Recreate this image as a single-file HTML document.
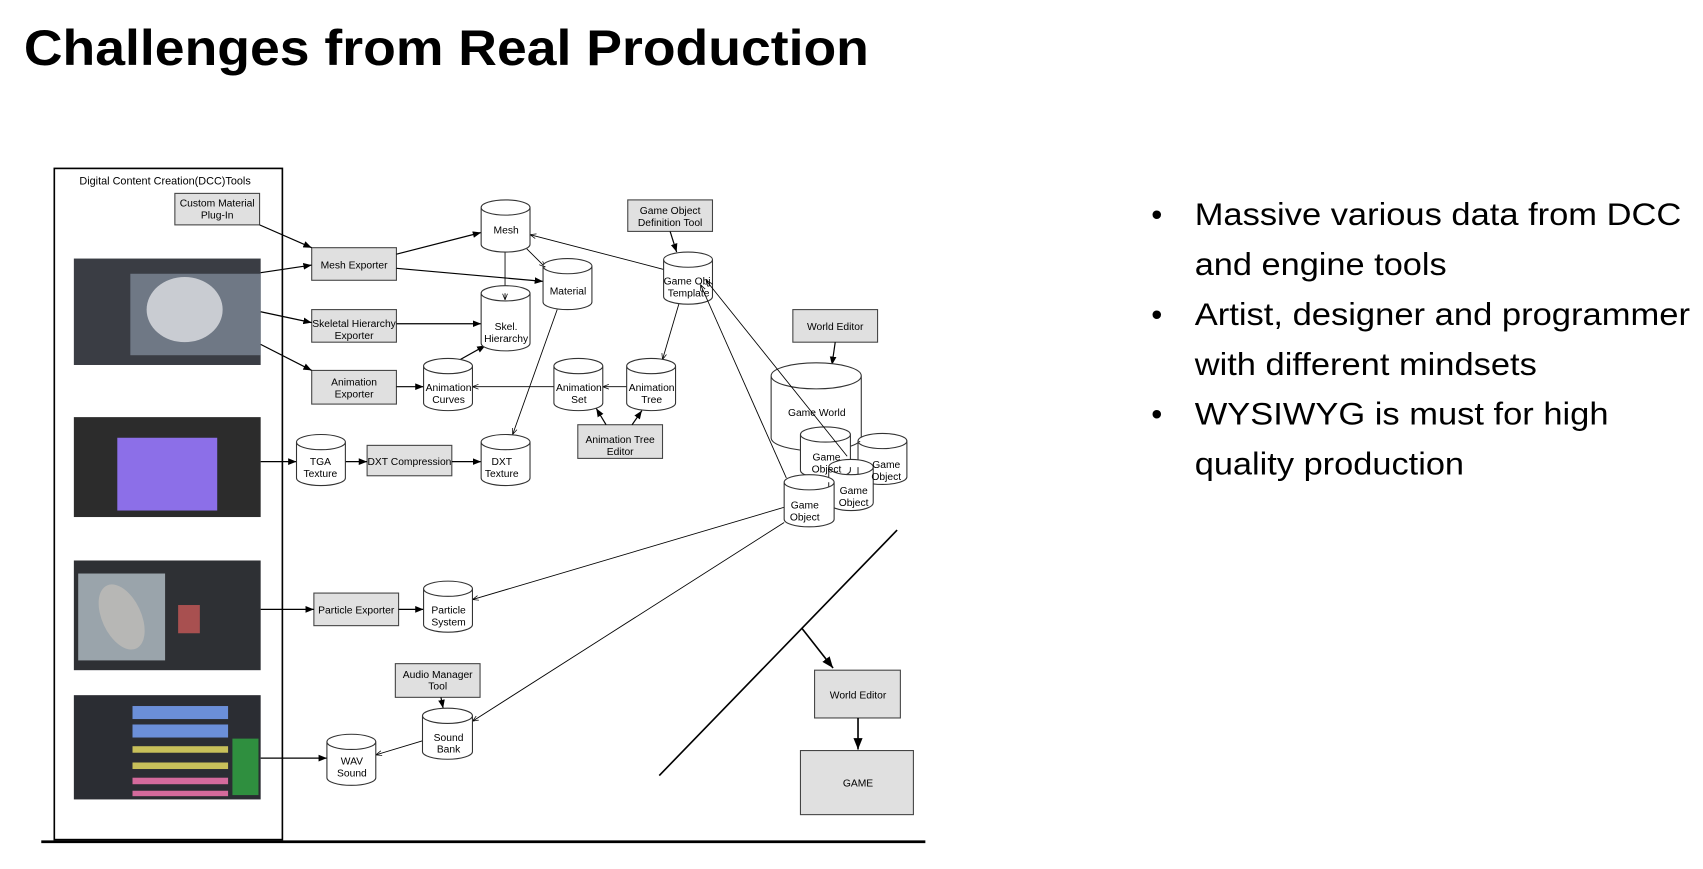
<!DOCTYPE html>
<html><head><meta charset="utf-8"><style>
html,body{margin:0;padding:0;background:#fff;}
svg{display:block;}
text{font-family:"Liberation Sans",Arial,sans-serif;}
</style></head><body>
<svg width="1703" height="869" viewBox="0 0 1568 800" xmlns="http://www.w3.org/2000/svg">
<defs>
<marker id="a" viewBox="0 0 10 10" refX="10" refY="5" markerWidth="7" markerHeight="7" orient="auto"><path d="M0,1 L10,5 L0,9 z" fill="#000"/></marker>
<marker id="o" viewBox="0 0 10 10" refX="10" refY="5" markerWidth="7" markerHeight="7" orient="auto"><path d="M0,1 L10,5 L0,9" fill="none" stroke="#000" stroke-width="1.2"/></marker>
<marker id="os" viewBox="0 0 10 10" refX="0" refY="5" markerWidth="7" markerHeight="7" orient="auto"><path d="M10,1 L0,5 L10,9" fill="none" stroke="#000" stroke-width="1.2"/></marker>
</defs>
<text x="22" y="60" font-size="46" font-weight="bold" textLength="778" lengthAdjust="spacingAndGlyphs">Challenges from Real Production</text>

<!-- bullets -->
<g font-size="29" fill="#000">
<text x="1060" y="207">•</text><text x="1100" y="207" textLength="448" lengthAdjust="spacingAndGlyphs">Massive various data from DCC</text>
<text x="1100" y="253" textLength="232" lengthAdjust="spacingAndGlyphs">and engine tools</text>
<text x="1060" y="299">•</text><text x="1100" y="299" textLength="456" lengthAdjust="spacingAndGlyphs">Artist, designer and programmer</text>
<text x="1100" y="345" textLength="315" lengthAdjust="spacingAndGlyphs">with different mindsets</text>
<text x="1060" y="391">•</text><text x="1100" y="391" textLength="381" lengthAdjust="spacingAndGlyphs">WYSIWYG is must for high</text>
<text x="1100" y="437" textLength="248" lengthAdjust="spacingAndGlyphs">quality production</text>
</g>

<!-- DCC box -->
<rect x="50" y="155" width="210" height="618" fill="none" stroke="#000" stroke-width="1.5"/>
<line x1="38" y1="775" x2="852" y2="775" stroke="#000" stroke-width="2.5"/>
<text x="152" y="170" font-size="10" text-anchor="middle">Digital Content Creation(DCC)Tools</text>

<!-- screenshots -->
<rect x="68" y="238" width="172" height="98" fill="#3a3d44"/>
<rect x="120" y="252" width="120" height="75" fill="#6f7885"/>
<ellipse cx="170" cy="285" rx="35" ry="30" fill="#c9ccd2"/>
<rect x="68" y="384" width="172" height="92" fill="#2c2c2c"/>
<rect x="108" y="403" width="92" height="67" fill="#8c6fe8"/>
<rect x="68" y="516" width="172" height="101" fill="#2e3034"/>
<rect x="72" y="528" width="80" height="80" fill="#9aa4ab"/>
<ellipse cx="112" cy="568" rx="18" ry="32" fill="#b7b7b5" transform="rotate(-25 112 568)"/>
<rect x="164" y="557" width="20" height="26" fill="#a85050"/>
<rect x="68" y="640" width="172" height="96" fill="#2b2d33"/>
<rect x="122" y="650" width="88" height="12" fill="#6b8fd9"/>
<rect x="122" y="667" width="88" height="12" fill="#6b8fd9"/>
<rect x="122" y="687" width="88" height="6" fill="#c8c05a"/>
<rect x="122" y="702" width="88" height="6" fill="#c8c05a"/>
<rect x="122" y="716" width="88" height="6" fill="#d46a9c"/>
<rect x="122" y="728" width="88" height="5" fill="#d46a9c"/>
<rect x="214" y="680" width="24" height="52" fill="#2f8f3f"/>

<!-- boxes -->
<g fill="#e0e0e0" stroke="#444" stroke-width="1">
<rect x="161" y="178" width="78" height="29"/>
<rect x="287" y="228" width="78" height="30"/>
<rect x="287" y="285" width="78" height="30"/>
<rect x="287" y="341" width="78" height="31"/>
<rect x="289" y="546" width="78" height="30"/>
<rect x="338" y="410" width="78" height="28"/>
<rect x="578" y="184" width="78" height="29"/>
<rect x="730" y="285" width="78" height="30"/>
<rect x="532" y="391" width="78" height="31"/>
<rect x="364" y="611" width="78" height="31"/>
<rect x="750" y="617" width="79" height="44"/>
<rect x="737" y="691" width="104" height="59"/>
</g>
<g font-size="9.5" text-anchor="middle" fill="#000">
<text x="200" y="190">Custom Material</text><text x="200" y="201">Plug-In</text>
<text x="326" y="247">Mesh Exporter</text>
<text x="326" y="301">Skeletal Hierarchy</text><text x="326" y="312">Exporter</text>
<text x="326" y="355">Animation</text><text x="326" y="366">Exporter</text>
<text x="328" y="565">Particle Exporter</text>
<text x="377" y="428">DXT Compression</text>
<text x="617" y="197">Game Object</text><text x="617" y="208">Definition Tool</text>
<text x="769" y="304">World Editor</text>
<text x="571" y="408">Animation Tree</text><text x="571" y="419">Editor</text>
<text x="403" y="624">Audio Manager</text><text x="403" y="635">Tool</text>
<text x="790" y="643">World Editor</text>
<text x="790" y="724">GAME</text>
</g>

<!-- connectors -->
<g stroke="#000" stroke-width="1.1" fill="none">
<line x1="239" y1="207" x2="287" y2="228" marker-end="url(#a)"/>
<line x1="240" y1="251" x2="287" y2="244" marker-end="url(#a)"/>
<line x1="240" y1="287" x2="287" y2="297" marker-end="url(#a)"/>
<line x1="240" y1="317" x2="287" y2="341" marker-end="url(#a)"/>
<line x1="365" y1="234" x2="443" y2="214" marker-end="url(#a)"/>
<line x1="365" y1="247" x2="500" y2="259" marker-end="url(#a)"/>
<line x1="365" y1="298" x2="443" y2="298" marker-end="url(#a)"/>
<line x1="365" y1="356" x2="390" y2="356" marker-end="url(#a)"/>
<line x1="422" y1="332" x2="447" y2="318" marker-end="url(#a)"/>
<line x1="465" y1="232" x2="465" y2="276" stroke-width="0.8" marker-end="url(#o)"/>
<line x1="485" y1="229" x2="502" y2="246" stroke-width="0.8" marker-end="url(#o)"/>
<line x1="513" y1="285" x2="472" y2="400" stroke-width="0.8" marker-end="url(#o)"/>
<line x1="611" y1="248" x2="488" y2="216" stroke-width="0.8" marker-end="url(#o)"/>
<line x1="625" y1="280" x2="610" y2="331" stroke-width="0.8" marker-end="url(#o)"/>
<line x1="577" y1="356" x2="555" y2="356" stroke-width="0.8" marker-end="url(#o)"/>
<line x1="510" y1="356" x2="435" y2="356" stroke-width="0.8" marker-end="url(#o)"/>
<line x1="558" y1="391" x2="549" y2="376" marker-end="url(#a)"/>
<line x1="582" y1="391" x2="591" y2="378" marker-end="url(#a)"/>
<line x1="617" y1="213" x2="623" y2="232" marker-end="url(#a)"/>
<line x1="769" y1="315" x2="766" y2="336" marker-end="url(#a)"/>
<line x1="240" y1="425" x2="273" y2="425" marker-end="url(#a)"/>
<line x1="318" y1="425" x2="338" y2="425" marker-end="url(#a)"/>
<line x1="416" y1="425" x2="443" y2="425" marker-end="url(#a)"/>
<line x1="240" y1="561" x2="289" y2="561" marker-end="url(#a)"/>
<line x1="367" y1="561" x2="390" y2="561" marker-end="url(#a)"/>
<line x1="406" y1="642" x2="408" y2="652" marker-end="url(#a)"/>
<line x1="240" y1="698" x2="301" y2="698" marker-end="url(#a)"/>
<line x1="389" y1="682" x2="346" y2="695" stroke-width="0.8" marker-end="url(#o)"/>
<line x1="722" y1="467" x2="435" y2="552" stroke-width="0.8" marker-end="url(#o)"/>
<line x1="722" y1="481" x2="435" y2="664" stroke-width="0.8" marker-end="url(#o)"/>
<line x1="607" y1="714" x2="826" y2="488" stroke-width="1.5"/>
<line x1="738" y1="578" x2="767" y2="615" stroke-width="1.5" marker-end="url(#a)"/>
<line x1="790" y1="661" x2="790" y2="690" stroke-width="1.5" marker-end="url(#a)"/>
</g>

<!-- cylinders -->
<g fill="#fff" stroke="#333" stroke-width="1">
<path d="M443,191 a22.5,7 0 0 1 45,0 v34 a22.5,7 0 0 1 -45,0 z M443,191 a22.5,7 0 0 0 45,0"/>
<path d="M500,245 a22.5,7 0 0 1 45,0 v33 a22.5,7 0 0 1 -45,0 z M500,245 a22.5,7 0 0 0 45,0"/>
<path d="M611,239 a22.5,7 0 0 1 45,0 v34 a22.5,7 0 0 1 -45,0 z M611,239 a22.5,7 0 0 0 45,0"/>
<path d="M443,270 a22.5,7 0 0 1 45,0 v46 a22.5,7 0 0 1 -45,0 z M443,270 a22.5,7 0 0 0 45,0"/>
<path d="M390,337 a22.5,7 0 0 1 45,0 v34 a22.5,7 0 0 1 -45,0 z M390,337 a22.5,7 0 0 0 45,0"/>
<path d="M510,337 a22.5,7 0 0 1 45,0 v34 a22.5,7 0 0 1 -45,0 z M510,337 a22.5,7 0 0 0 45,0"/>
<path d="M577,337 a22.5,7 0 0 1 45,0 v34 a22.5,7 0 0 1 -45,0 z M577,337 a22.5,7 0 0 0 45,0"/>
<path d="M273,407 a22.5,7 0 0 1 45,0 v33 a22.5,7 0 0 1 -45,0 z M273,407 a22.5,7 0 0 0 45,0"/>
<path d="M443,407 a22.5,7 0 0 1 45,0 v33 a22.5,7 0 0 1 -45,0 z M443,407 a22.5,7 0 0 0 45,0"/>
<path d="M710,346 a41.5,12 0 0 1 83,0 v57 a41.5,12 0 0 1 -83,0 z M710,346 a41.5,12 0 0 0 83,0"/>
<path d="M737,400 a23,7 0 0 1 46,0 v33 a23,7 0 0 1 -46,0 z M737,400 a23,7 0 0 0 46,0"/>
<path d="M790,406 a22.5,7 0 0 1 45,0 v33 a22.5,7 0 0 1 -45,0 z M790,406 a22.5,7 0 0 0 45,0"/>
<path d="M763,430 a20.5,7 0 0 1 41,0 v33 a20.5,7 0 0 1 -41,0 z M763,430 a20.5,7 0 0 0 41,0"/>
<path d="M722,444 a23,7 0 0 1 46,0 v34 a23,7 0 0 1 -46,0 z M722,444 a23,7 0 0 0 46,0"/>
<path d="M390,542 a22.5,7 0 0 1 45,0 v33 a22.5,7 0 0 1 -45,0 z M390,542 a22.5,7 0 0 0 45,0"/>
<path d="M389,659 a23,7 0 0 1 46,0 v33 a23,7 0 0 1 -46,0 z M389,659 a23,7 0 0 0 46,0"/>
<path d="M301,683 a22.5,7 0 0 1 45,0 v33 a22.5,7 0 0 1 -45,0 z M301,683 a22.5,7 0 0 0 45,0"/>
</g>
<g stroke="#000" stroke-width="0.8" fill="none">
<line x1="645" y1="262" x2="724" y2="440" marker-start="url(#os)"/>
<line x1="650" y1="258" x2="780" y2="420" marker-start="url(#os)"/>
</g>
<g font-size="9.5" text-anchor="middle" fill="#000">
<text x="466" y="215">Mesh</text>
<text x="523" y="271">Material</text>
<text x="634" y="262">Game Obj.</text><text x="634" y="273">Template</text>
<text x="466" y="304">Skel.</text><text x="466" y="315">Hierarchy</text>
<text x="413" y="360">Animation</text><text x="413" y="371">Curves</text>
<text x="533" y="360">Animation</text><text x="533" y="371">Set</text>
<text x="600" y="360">Animation</text><text x="600" y="371">Tree</text>
<text x="295" y="428">TGA</text><text x="295" y="439">Texture</text>
<text x="462" y="428">DXT</text><text x="462" y="439">Texture</text>
<text x="752" y="383">Game World</text>
<text x="761" y="424">Game</text><text x="761" y="435">Object</text>
<text x="816" y="431">Game</text><text x="816" y="442">Object</text>
<text x="786" y="455">Game</text><text x="786" y="466">Object</text>
<text x="741" y="468">Game</text><text x="741" y="479">Object</text>
<text x="413" y="565">Particle</text><text x="413" y="576">System</text>
<text x="413" y="682">Sound</text><text x="413" y="693">Bank</text>
<text x="324" y="704">WAV</text><text x="324" y="715">Sound</text>
</g>
</svg>
</body></html>
